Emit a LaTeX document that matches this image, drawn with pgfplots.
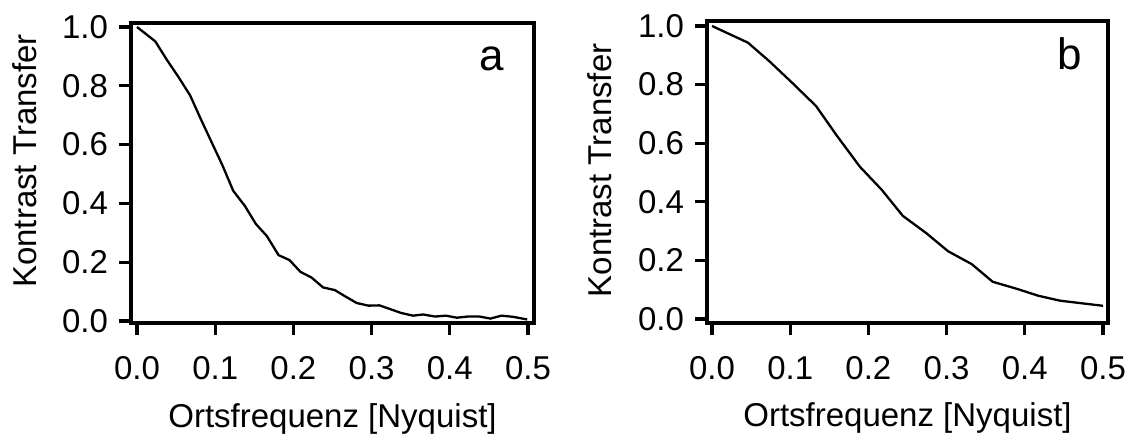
\documentclass[border=0pt]{standalone}
\usepackage{pgfplots}
\pgfplotsset{compat=1.18}
\usepackage{fontspec}
\setmainfont{Liberation Sans}
\begin{document}
\begin{tikzpicture}
\useasboundingbox (0,0) rectangle (568.5pt,217.5pt);
\pgfplotsset{
  igor/.style={
    scale only axis,
    axis line style={line width=1.7pt},
    every tick/.style={line width=1.6pt, black},
    tick align=outside,
    major tick length=6pt,
    xtick pos=bottom, ytick pos=left,
    xtick={0,0.1,0.2,0.3,0.4,0.5},
    ytick={0,0.2,0.4,0.6,0.8,1.0},
    /pgf/number format/assume math mode=true,
    /pgf/number format/.cd, fixed, fixed zerofill, precision=1, /pgfplots/.cd,
    tick label style={font=\fontsize{16.5}{19}\selectfont},
    xticklabel style={yshift=-7pt},
    yticklabel style={xshift=-2pt},
    label style={font=\fontsize{16.5}{19}\selectfont},
    xlabel={Ortsfrequenz [Nyquist]},
    ylabel={Kontrast Transfer},
  }
}
\begin{axis}[igor,
  at={(65.5pt,56pt)}, anchor=south west,
  width=201.5pt, height=150pt,
  xmin=-0.0077, xmax=0.5077, ymin=-0.007, ymax=1.0136,
  xlabel style={at={(axis description cs:0.5,-0.347)}, anchor=base},
  ylabel style={at={(axis description cs:-0.263,0.54)}, anchor=center},
]
\addplot[black, line width=1.15pt, no marks] coordinates {
(0,1.0) (0.0234,0.951) (0.038,0.889) (0.053,0.830) (0.068,0.767) (0.081,0.690)
(0.094,0.616) (0.109,0.531) (0.123,0.443) (0.138,0.391) (0.152,0.330) (0.166,0.289)
(0.181,0.224) (0.195,0.207) (0.209,0.167) (0.223,0.148) (0.238,0.114) (0.253,0.105)
(0.266,0.084) (0.281,0.061) (0.296,0.052) (0.310,0.053) (0.323,0.041) (0.338,0.027)
(0.353,0.018) (0.366,0.022) (0.381,0.015) (0.395,0.018) (0.409,0.011) (0.423,0.015)
(0.438,0.015) (0.452,0.008) (0.466,0.018) (0.481,0.014) (0.499,0.005)
};
\node[anchor=base, font=\fontsize{22}{26}\selectfont] at (rel axis cs:0.896,0.843) {a};
\end{axis}
\begin{axis}[igor,
  at={(353.5pt,56pt)}, anchor=south west,
  width=200.5pt, height=151pt,
  xmin=-0.0064, xmax=0.5064, ymin=-0.0137, ymax=1.017,
  xlabel style={at={(axis description cs:0.5,-0.344)}, anchor=base},
  ylabel style={at={(axis description cs:-0.267,0.505)}, anchor=center},
]
\addplot[black, line width=1.15pt, no marks] coordinates {
(0,1.0) (0.046,0.943) (0.074,0.878) (0.101,0.810) (0.133,0.727) (0.159,0.628)
(0.189,0.520) (0.217,0.441) (0.244,0.352) (0.274,0.293) (0.302,0.231) (0.332,0.1875)
(0.359,0.127) (0.391,0.102) (0.417,0.0795) (0.445,0.0625) (0.5,0.045)
};
\node[anchor=base, font=\fontsize{22}{26}\selectfont] at (rel axis cs:0.904,0.838) {b};
\end{axis}
\end{tikzpicture}
\end{document}
